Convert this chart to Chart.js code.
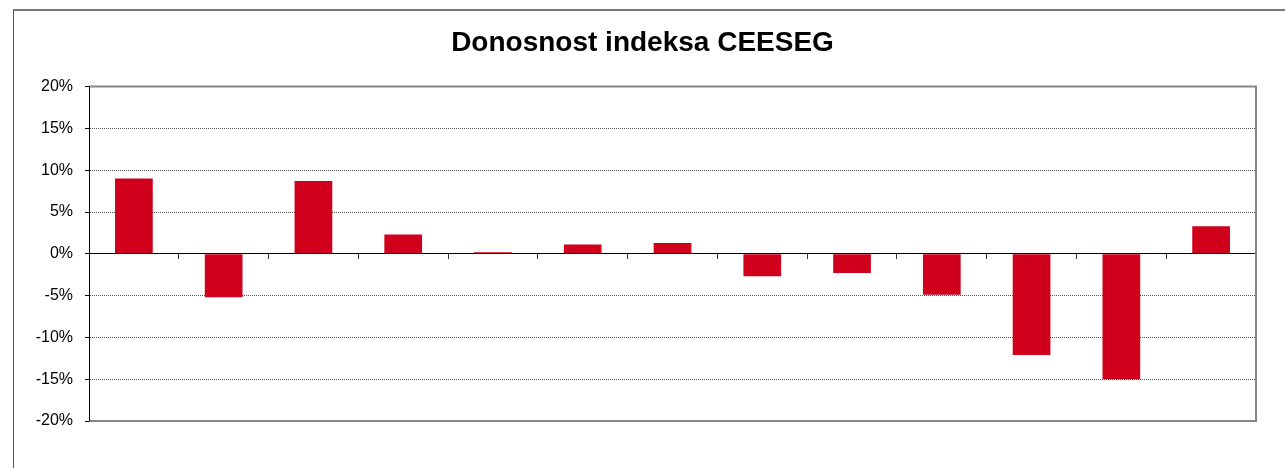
<!DOCTYPE html>
<html>
<head>
<meta charset="utf-8">
<script src="https://cdn.jsdelivr.net/npm/chart.js@4"></script>
<style>
  body { margin: 0; background: #fff; overflow: hidden; }
  #frame { position: absolute; left: 13px; top: 9px; width: 1400px; height: 600px;
           border-top: 2px solid #7a7a7a; border-left: 1px solid #555; }
  #wrap { position: absolute; left: 0; top: 0; width: 1285px; height: 468px; }
</style>
</head>
<body>
<div id="frame"></div>
<div id="wrap"><canvas id="myChart" width="1285" height="468"></canvas></div>
<script>
const categories = ['1', '2', '3', '4', '5', '6', '7', '8', '9', '10', '11', '12', '13'];
const returns = [9.0, -5.2, 8.7, 2.3, 0.2, 1.1, 1.3, -2.7, -2.3, -4.9, -12.1, -15.0, 3.3];
const yTicks = [-20, -15, -10, -5, 0, 5, 10, 15, 20];

// gray frame around the plot area (top, right, bottom)
const plotFrame = {
    id: 'plotFrame',
    afterDraw(chart) {
        const a = chart.chartArea;
        const c = chart.ctx;
        c.save();
        c.strokeStyle = '#858585';
        c.lineWidth = 2;
        c.beginPath();
        c.moveTo(a.left, a.top);
        c.lineTo(a.right, a.top);
        c.lineTo(a.right, a.bottom);
        c.lineTo(a.left, a.bottom);
        c.stroke();
        // y axis line on top
        c.strokeStyle = '#000';
        c.lineWidth = 1;
        c.beginPath();
        c.moveTo(a.left + 0.5, a.top);
        c.lineTo(a.left + 0.5, a.bottom);
        c.stroke();
        c.restore();
    }
};

const ctx = document.getElementById('myChart').getContext('2d');

const myChart = new Chart(ctx, {
    type: 'bar',
    data: {
        labels: categories,
        datasets: [{
            label: 'Donosnost',
            data: returns,
            backgroundColor: '#D0001C',
            borderWidth: 0,
            categoryPercentage: 1,
            barPercentage: 0.42
        }]
    },
    options: {
        responsive: false,
        animation: false,
        layout: { padding: { left: 0, right: 0, top: 13, bottom: 47 } },
        plugins: {
            legend: { display: false },
            tooltip: { enabled: false },
            title: {
                display: true,
                text: 'Donosnost indeksa CEESEG',
                color: '#000',
                font: { family: 'Liberation Sans, Arial, sans-serif', size: 28, weight: 'bold' },
                padding: { top: 13, bottom: 27 }
            }
        },
        scales: {
            x: {
                position: { y: 0 },
                grid: {
                    offset: true,
                    drawOnChartArea: false,
                    drawTicks: true,
                    tickLength: 5,
                    tickColor: '#333'
                },
                border: { display: true, color: '#000', width: 1 },
                ticks: { display: false }
            },
            y: {
                min: -20,
                max: 20,
                afterFit: function (scale) { scale.width = 89; },
                afterBuildTicks: function (scale) {
                    scale.ticks = yTicks.map(v => ({ value: v }));
                },
                grid: {
                    color: '#555',
                    lineWidth: 1,
                    tickLength: 4,
                    tickColor: '#000'
                },
                border: { display: true, color: '#000', width: 1, dash: [1, 1] },
                ticks: {
                    color: '#000',
                    padding: 12,
                    font: { family: 'Liberation Sans, Arial, sans-serif', size: 16 },
                    callback: v => v + '%'
                }
            },
            // empty spacer on the right so the title is centred on the page
            yRight: {
                position: 'right',
                min: -20,
                max: 20,
                afterFit: function (scale) { scale.width = 29; },
                grid: { display: false },
                border: { display: false },
                ticks: { display: false }
            }
        }
    },
    plugins: [plotFrame]
});
</script>
</body>
</html>
